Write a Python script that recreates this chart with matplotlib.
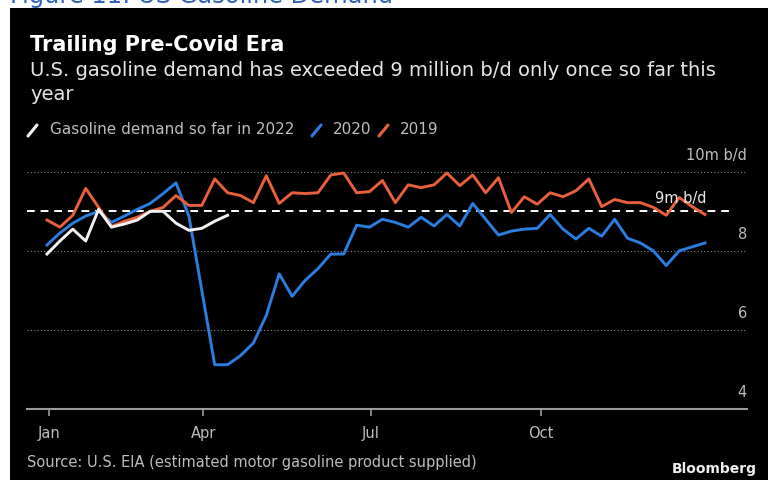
import matplotlib
matplotlib.use('Agg')
import matplotlib.pyplot as plt
from matplotlib.lines import Line2D
from matplotlib.patches import Rectangle

W, H = 768, 480

# weekly gasoline demand, million b/d (week index 0..51)
demand_2019 = [8.78, 8.6, 8.9, 9.58, 9.1, 8.62, 8.75, 8.85, 9.0, 9.1,
               9.4, 9.15, 9.15, 9.82, 9.47, 9.4, 9.22, 9.9, 9.2, 9.47,
               9.45, 9.47, 9.92, 9.97, 9.47, 9.5, 9.78, 9.22, 9.67, 9.6,
               9.67, 9.97, 9.65, 9.92, 9.47, 9.85, 8.97, 9.37, 9.18, 9.47,
               9.37, 9.52, 9.82, 9.12, 9.3, 9.22, 9.22, 9.1, 8.9, 9.35,
               9.12, 8.92]
demand_2020 = [8.15, 8.45, 8.7, 8.88, 9.0, 8.72, 8.88, 9.05, 9.2, 9.45,
               9.72, 8.88, 7.0, 5.12, 5.12, 5.35, 5.67, 6.37, 7.42, 6.85,
               7.25, 7.55, 7.92, 7.92, 8.65, 8.6, 8.8, 8.72, 8.6, 8.85,
               8.63, 8.92, 8.63, 9.2, 8.8, 8.4, 8.5, 8.55, 8.57, 8.92,
               8.55, 8.3, 8.57, 8.37, 8.8, 8.32, 8.2, 8.0, 7.63, 8.0,
               8.1, 8.2]
demand_2022 = [7.92, 8.25, 8.55, 8.25, 9.05, 8.6, 8.68, 8.78, 9.0, 9.0,
               8.7, 8.52, 8.57, 8.75, 8.9]

month_labels = ['Jan', 'Apr', 'Jul', 'Oct']
month_weeks = [0.15, 12.1, 25.1, 38.3]
y_ticks = [4, 6, 8, 10]
y_tick_labels = ['4', '6', '8', '10m b/d']
threshold = 9

c2019 = '#e8603c'
c2020 = '#2b7de0'
c2022 = '#f2f2f2'
grey = '#bdbdbd'


def px(x, y):
    # pixel position (from top-left) -> figure fraction
    return x / W, 1 - y / H


fig = plt.figure(figsize=(W / 100, H / 100), dpi=100, facecolor='white')
fig.add_artist(Rectangle(px(10, 480), (W - 10) / W, (480 - 8) / H,
                         transform=fig.transFigure, facecolor='black',
                         edgecolor='none', zorder=0))

# page caption, cut off at the top as in the source screenshot
fig.text(*px(10, 3), 'Figure 11: US Gasoline Demand', color='#2f62b8',
         fontsize=17.4, va='baseline', ha='left')
fig.text(*px(30, 45), 'Trailing Pre-Covid Era', color='white',
         fontsize=15, fontweight='bold', va='center')
fig.text(*px(30, 70), 'U.S. gasoline demand has exceeded 9 million b/d only '
         'once so far this', color='#e6e6e6', fontsize=14, va='center')
fig.text(*px(30, 95), 'year', color='#e6e6e6', fontsize=14, va='center')

# legend with slash icons
legend_items = [('Gasoline demand so far in 2022', c2022, 28, 50),
                ('2020', c2020, 312, 333),
                ('2019', c2019, 379, 400)]
for label, col, x_icon, x_text in legend_items:
    x0, y0 = px(x_icon, 136)
    x1, y1 = px(x_icon + 9, 125)
    fig.add_artist(Line2D([x0, x1], [y0, y1], color=col, lw=2.2,
                          transform=fig.transFigure, solid_capstyle='round'))
    fig.text(*px(x_text, 130), label, color=grey, fontsize=11, va='center')

left, bottom = px(27, 409)
right, top = px(747, 156)
ax = fig.add_axes([left, bottom, right - left, top - bottom])
ax.set_facecolor('none')

weeks_full = list(range(len(demand_2019)))
ax.plot(weeks_full, demand_2020, color=c2020, lw=2.1, zorder=3)
ax.plot(weeks_full, demand_2019, color=c2019, lw=2.1, zorder=3)
ax.plot(list(range(len(demand_2022))), demand_2022, color=c2022, lw=2.1,
        zorder=4)

ax.set_xlim(-1.55, 54.26)
ax.set_ylim(4, 10.4)

for v in y_ticks[1:]:
    ax.axhline(v, color='#8a8a8a', lw=0.8, ls=(0, (1, 2)), zorder=1)
ax.axhline(threshold, xmin=0, xmax=0.975, color='white', lw=1.4,
           ls=(0, (4, 3)), zorder=2)

for v, lab in zip(y_ticks, y_tick_labels):
    ax.annotate(lab, xy=(1.0, v), xycoords=('axes fraction', 'data'),
                xytext=(0, 12), textcoords='offset points', ha='right',
                va='center', color=grey, fontsize=10.5)
ax.annotate('9m b/d', xy=(0.944, threshold),
            xycoords=('axes fraction', 'data'), xytext=(0, 9),
            textcoords='offset points', ha='right', va='center',
            color='#e8e8e8', fontsize=10.5)

for s in ['top', 'right', 'left']:
    ax.spines[s].set_visible(False)
ax.spines['bottom'].set_color('#9a9a9a')
ax.spines['bottom'].set_linewidth(1.5)
ax.set_yticks([])
ax.set_xticks(month_weeks)
ax.set_xticklabels(month_labels)
ax.tick_params(axis='x', colors='#9a9a9a', length=5, width=1.2, pad=7,
               labelcolor=grey, labelsize=10.5)

fig.text(*px(27, 463), 'Source: U.S. EIA (estimated motor gasoline product '
         'supplied)', color=grey, fontsize=10.5, va='center')
fig.text(*px(757, 469), 'Bloomberg', color='#eeeeee', fontsize=10,
         fontweight='bold', ha='right', va='center')

fig.savefig('out.png', dpi=100, facecolor=fig.get_facecolor())
